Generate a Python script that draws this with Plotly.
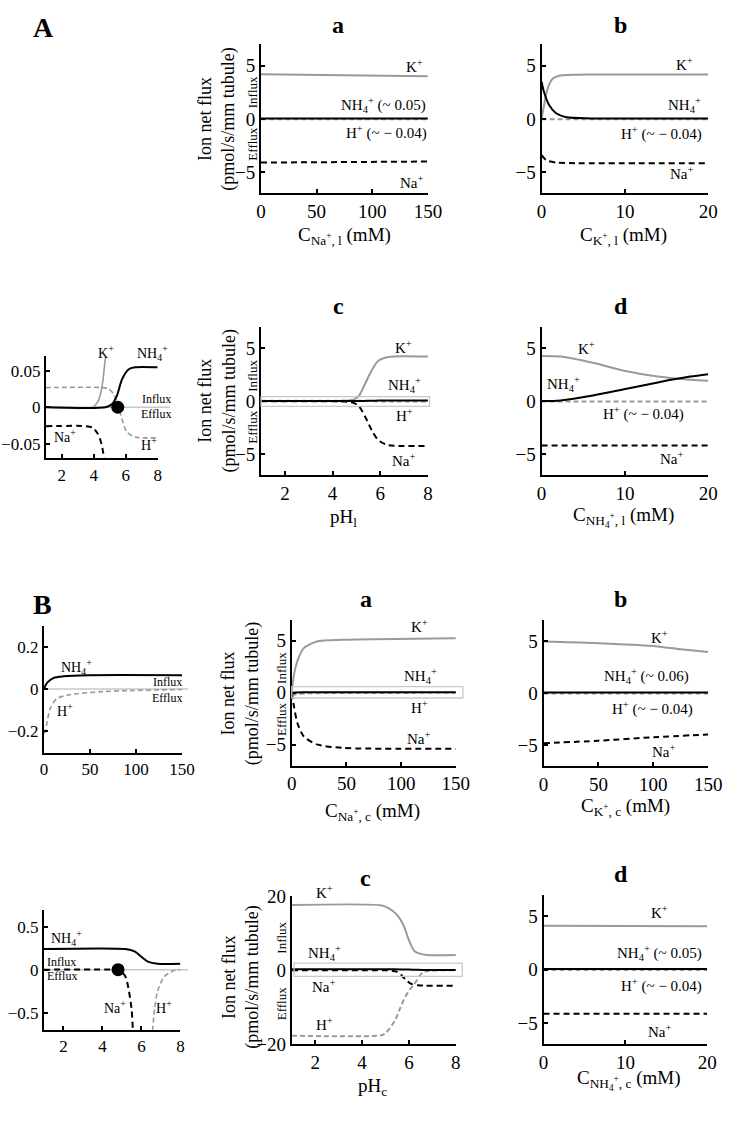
import plotly.graph_objects as go

W, H = 742, 1121
SERIF = "Liberation Serif"
BLACK = "#000000"
GREY = "#9a9a9a"
PALE = "#c8c8c8"

# ---- A a : flux vs luminal Na+ ----
naL = [0, 150]
naL_k = [4.2, 4.0]
naL_nh4 = [0.05, 0.05]
naL_h = [-0.04, -0.04]
naL_na = [-4.1, -4.0]

# ---- A b : flux vs luminal K+ ----
kL_k_x = [0, 0.3, 0.7, 1.3, 2.25, 4, 6, 20]
kL_k = [0, 1.3, 2.8, 3.75, 4.07, 4.15, 4.17, 4.17]
kL_nh4_x = [0, 0.3, 0.9, 1.7, 3, 6, 20]
kL_nh4 = [3.5, 2.5, 1.3, 0.55, 0.15, 0.05, 0.05]
kL_h_x = [0, 20]
kL_h = [-0.04, -0.04]
kL_na_x = [0, 0.6, 1.8, 4, 20]
kL_na = [-3.4, -3.9, -4.1, -4.15, -4.15]

# ---- A c (and its inset) : flux vs luminal pH ----
phL_k_x = [1, 3.93, 4.24, 4.44, 4.58, 4.69, 4.77, 4.9, 5.1, 5.38, 5.65, 5.92, 6.33, 8]
phL_k = [0, 0, 0.007, 0.02, 0.038, 0.061, 0.075, 0.15, 0.46, 1.7, 2.93, 3.8, 4.17, 4.2]
phL_nh4_x = [1, 4.74, 5.15, 5.45, 5.76, 6.17, 6.58, 8]
phL_nh4 = [0, 0, 0.0045, 0.016, 0.038, 0.052, 0.055, 0.055]
phL_h_x = [1, 4.55, 4.95, 5.25, 5.56, 5.76, 6.07, 6.58, 8]
phL_h = [0.027, 0.027, 0.025, 0.018, 0, -0.016, -0.034, -0.041, -0.042]
phL_na_x = [1, 3.53, 3.93, 4.24, 4.44, 4.58, 4.66, 4.85, 5.1, 5.38, 5.65, 5.92, 6.33, 8]
phL_na = [-0.026, -0.026, -0.028, -0.036, -0.047, -0.061, -0.075, -0.15, -0.46, -1.54, -2.78, -3.7, -4.17, -4.23]
phL_dot_x = [5.5]
phL_dot_y = [0]

# ---- A d : flux vs luminal NH4+ ----
nh4L_x = [0, 2.26, 6.15, 10.05, 13.95, 17.85, 20]
nh4L_k = [4.25, 4.2, 3.61, 2.84, 2.31, 2.0, 1.91]
nh4L_nh4 = [0, 0.06, 0.52, 1.14, 1.76, 2.31, 2.53]
nh4L_hx = [0, 20]
nh4L_h = [-0.04, -0.04]
nh4L_na = [-4.2, -4.2]

# ---- B a (and upper inset) : flux vs cellular Na+ ----
naC_x = [0, 2.1, 5.1, 11, 22.9, 46.7, 150]
naC_k = [0, 1.8, 3.05, 4.3, 4.94, 5.1, 5.25]
naC_na = [0, -1.35, -2.9, -4.2, -4.96, -5.3, -5.37]
naC_nh4_x = [0, 3.5, 10.6, 21, 49, 150]
naC_nh4 = [0, 0.03, 0.053, 0.06, 0.065, 0.065]
naC_h_x = [0, 1.7, 3.5, 6.9, 14, 28, 63.5, 150]
naC_h = [-0.21, -0.2, -0.152, -0.091, -0.045, -0.027, -0.012, -0.002]

# ---- B b : flux vs cellular K+ ----
kC_k_x = [0, 45, 104, 125, 150]
kC_k = [4.94, 4.8, 4.47, 4.2, 3.93]
kC_na_x = [0, 50, 100, 150]
kC_na = [-4.8, -4.55, -4.22, -3.95]
kC_flat_x = [0, 150]
kC_nh4 = [0.06, 0.06]
kC_h = [-0.04, -0.04]

# ---- B c (and lower inset) : flux vs cellular pH ----
phC_k_x = [1, 4.8, 5.14, 5.45, 5.69, 5.85, 5.96, 6.1, 6.24, 6.5, 6.79, 8]
phC_k = [17.6, 17.5, 16.7, 15.2, 13.1, 10.8, 8.7, 6.6, 5.1, 4.4, 4.1, 4.1]
phC_h_x = [1, 4.8, 5.0, 5.41, 5.62, 5.83, 6.03, 6.24, 6.42, 6.58, 6.67, 6.83, 7.17, 7.67, 8]
phC_h = [-17.7, -17.6, -17.0, -13.5, -10.3, -7.3, -5.3, -3.7, -1.8, -0.7, -0.47, -0.25, -0.08, -0.01, 0]
phC_na_x = [1, 4.6, 4.9, 5.17, 5.33, 5.5, 5.56, 5.7, 5.9, 6.1, 6.4, 8]
phC_na = [0, 0, -0.01, -0.076, -0.21, -0.47, -0.7, -1.5, -2.8, -3.7, -4.1, -4.2]
phC_nh4_x = [1, 5.17, 5.67, 6.0, 6.33, 6.83, 8]
phC_nh4 = [0.24, 0.24, 0.21, 0.15, 0.094, 0.068, 0.068]
phC_dot_x = [4.8]
phC_dot_y = [0]

# ---- B d : flux vs cellular NH4+ ----
nh4C_x = [0, 20]
nh4C_k = [4.1, 4.05]
nh4C_nh4 = [0.05, 0.05]
nh4C_h = [-0.04, -0.04]
nh4C_na = [-4.15, -4.15]

MAIN_Y = [-5, 0, 5]

fig = go.Figure()
layout = {}
annotations = []
shapes = []
yranges = {}


def r(n, k):
    return k if n == 1 else f"{k}{n}"


def axes(n, box, xr, yr, xt, yt, fs=19):
    left, right, top, bottom = box
    common = dict(showline=True, linecolor=BLACK, linewidth=2, ticks="inside", ticklen=4,
                  tickwidth=1.5, tickcolor=BLACK, showgrid=False, zeroline=False,
                  tickfont=dict(family=SERIF, size=fs, color=BLACK), fixedrange=True)
    xname = "xaxis" if n == 1 else f"xaxis{n}"
    yname = "yaxis" if n == 1 else f"yaxis{n}"
    layout[xname] = dict(domain=[left / W, right / W], range=xr, tickvals=xt, anchor=r(n, "y"), **common)
    layout[yname] = dict(domain=[1 - bottom / H, 1 - top / H], range=yr, tickvals=yt, anchor=r(n, "x"), **common)
    yranges[n] = yr


def curve(n, x, y, color, dash=None, width=2):
    fig.add_trace(go.Scatter(x=x, y=y, mode="lines", xaxis=r(n, "x"), yaxis=r(n, "y"),
                             line=dict(color=color, width=width, dash=dash, shape="spline", smoothing=0.7),
                             hoverinfo="skip"))


def dot(n, x, y):
    fig.add_trace(go.Scatter(x=x, y=y, mode="markers", xaxis=r(n, "x"), yaxis=r(n, "y"),
                             marker=dict(color=BLACK, size=13), cliponaxis=False, hoverinfo="skip"))


def label(n, x, y, text, size=15):
    # labels above the axis range are placed on the domain scale so they are not hidden
    lo, hi = yranges[n]
    if lo <= y <= hi:
        yref, yy = r(n, "y"), y
    else:
        yref, yy = f"{r(n, 'y')} domain", (y - lo) / (hi - lo)
    annotations.append(dict(xref=r(n, "x"), yref=yref, x=x, y=yy, text=text, showarrow=False,
                            xanchor="center", yanchor="middle",
                            font=dict(family=SERIF, size=size, color=BLACK)))


def paper_text(px, py, text, size=18, bold=False, angle=0):
    if bold:
        text = f"<b>{text}</b>"
    annotations.append(dict(xref="paper", yref="paper", x=px / W, y=1 - py / H, text=text,
                            showarrow=False, textangle=angle, xanchor="center", yanchor="middle",
                            font=dict(family=SERIF, size=size, color=BLACK)))


def flux_side(n, xfrac, y_in, y_out):
    for yv, t in ((y_in, "Influx"), (y_out, "Efflux")):
        annotations.append(dict(xref=f"{r(n, 'x')} domain", yref=r(n, "y"), x=xfrac, y=yv, text=t,
                                showarrow=False, textangle=-90, xanchor="center", yanchor="middle",
                                font=dict(family=SERIF, size=13, color=BLACK)))


def zero_band(n, x0, x1, y0, y1):
    shapes.append(dict(type="rect", xref=f"{r(n, 'x')} domain", yref=r(n, "y"), x0=x0, x1=x1,
                       y0=y0, y1=y1, line=dict(color=PALE, width=1.3), layer="above"))


def zero_line(n, x0, x1):
    shapes.append(dict(type="line", xref=f"{r(n, 'x')} domain", yref=r(n, "y"), x0=x0, x1=x1,
                       y0=0, y1=0, line=dict(color=PALE, width=1.6), layer="below"))


DASH_K = "6px,4px"
DASH_G = "5px,3px"
KP = "K<sup>+</sup>"
NAP = "Na<sup>+</sup>"
HP = "H<sup>+</sup>"
NH4P = "NH<sub>4</sub><sup>+</sup>"
YT = "Ion net flux<br>(pmol/s/mm tubule)"

# ---------------- A a ----------------
axes(1, (262.7, 434, 35, 187), [0, 150], [-7, 7], [0, 50, 100, 150], MAIN_Y)
curve(1, naL, naL_h, GREY, DASH_G)
curve(1, naL, naL_na, BLACK, DASH_K)
curve(1, naL, naL_k, GREY)
curve(1, naL, naL_nh4, BLACK)
label(1, 137.7, 4.95, KP)
label(1, 110, 1.32, NH4P + " (~ 0.05)")
label(1, 113, -1.29, HP + " (~ − 0.04)")
label(1, 136, -5.9, NAP)
flux_side(1, -0.051, 2.55, -2.37)

# ---------------- A b ----------------
axes(2, (550.7, 721.7, 35, 187), [0, 20], [-7, 7], [0, 10, 20], MAIN_Y)
curve(2, kL_h_x, kL_h, GREY, DASH_G)
curve(2, kL_na_x, kL_na, BLACK, DASH_K)
curve(2, kL_k_x, kL_k, GREY)
curve(2, kL_nh4_x, kL_nh4, BLACK)
label(2, 17.1, 5.15, KP)
label(2, 17.1, 1.32, NH4P)
label(2, 14.4, -1.38, HP + " (~ − 0.04)")
label(2, 16.9, -5.04, NAP)

# ---------------- A inset ----------------
axes(3, (41.9, 156.7, 353, 456.7), [1, 8], [-0.07, 0.07], [2, 4, 6, 8], [-0.05, 0, 0.05], fs=17)
zero_line(3, 0, 1.11)
curve(3, phL_h_x, phL_h, GREY, DASH_G, 1.6)
curve(3, phL_na_x, phL_na, BLACK, DASH_K)
curve(3, phL_k_x, phL_k, GREY, None, 1.6)
curve(3, phL_nh4_x, phL_nh4, BLACK)
dot(3, phL_dot_x, phL_dot_y)
label(3, 4.79, 0.076, KP, 14)
label(3, 7.7, 0.074, NH4P, 14)
label(3, 7.9, 0.011, "Influx", 12)
label(3, 7.9, -0.0095, "Efflux", 12)
label(3, 2.23, -0.04, NAP, 14)
label(3, 7.47, -0.051, HP, 14)

# ---------------- A c ----------------
axes(4, (262.8, 434, 323, 474), [1, 8], [-7, 7], [2, 4, 6, 8], MAIN_Y)
zero_band(4, 0, 1.01, -0.5, 0.42)
curve(4, phL_h_x, phL_h, GREY, DASH_G)
curve(4, phL_na_x, phL_na, BLACK, DASH_K)
curve(4, phL_k_x, phL_k, GREY)
curve(4, phL_nh4_x, phL_nh4, BLACK)
label(4, 6.97, 5.12, KP)
label(4, 7.0, 1.5, NH4P)
label(4, 7.0, -1.36, HP)
label(4, 7.0, -5.53, NAP)
flux_side(4, -0.051, 2.34, -2.47)

# ---------------- A d ----------------
axes(5, (550.7, 721.7, 323, 474), [0, 20], [-7, 7], [0, 10, 20], MAIN_Y)
curve(5, nh4L_hx, nh4L_h, GREY, DASH_G)
curve(5, nh4L_hx, nh4L_na, BLACK, DASH_K)
curve(5, nh4L_x, nh4L_k, GREY)
curve(5, nh4L_x, nh4L_nh4, BLACK)
label(5, 5.38, 5.0, KP)
label(5, 2.6, 1.6, NH4P)
label(5, 12.2, -1.18, HP + " (~ − 0.04)")
label(5, 15.7, -5.43, NAP)

# ---------------- B upper inset ----------------
axes(6, (40, 181.7, 627.3, 756.7), [0, 150], [-0.3, 0.3], [0, 50, 100, 150], [-0.2, 0, 0.2], fs=17)
zero_line(6, 0, 1.045)
curve(6, naC_h_x, naC_h, GREY, DASH_G, 1.6)
curve(6, naC_nh4_x, naC_nh4, BLACK)
label(6, 35, 0.106, NH4P, 14)
label(6, 23.3, -0.098, HP, 14)
label(6, 134, 0.033, "Influx", 12)
label(6, 134, -0.043, "Efflux", 12)

# ---------------- B a ----------------
axes(7, (294.3, 462.7, 621.7, 770), [0, 150], [-7, 7], [0, 50, 100, 150], MAIN_Y)
zero_band(7, 0, 1.043, -0.5, 0.6)
curve(7, naC_h_x, naC_h, GREY, DASH_G)
curve(7, naC_x, naC_na, BLACK, DASH_K)
curve(7, naC_x, naC_k, GREY)
curve(7, naC_nh4_x, naC_nh4, BLACK)
label(7, 116.4, 6.45, KP)
label(7, 118, 1.64, NH4P)
label(7, 116.4, -1.35, HP)
label(7, 116.4, -4.34, NAP)
flux_side(7, -0.059, 2.4, -2.6)

# ---------------- B b ----------------
axes(8, (552.7, 721.7, 621.7, 770.7), [0, 150], [-7, 7], [0, 50, 100, 150], MAIN_Y)
curve(8, kC_flat_x, kC_h, GREY, DASH_G)
curve(8, kC_na_x, kC_na, BLACK, DASH_K)
curve(8, kC_k_x, kC_k, GREY)
curve(8, kC_flat_x, kC_nh4, BLACK)
label(8, 105.6, 5.42, KP)
label(8, 93.7, 1.64, NH4P + " (~ 0.06)")
label(8, 99.7, -1.5, HP + " (~ − 0.04)")
label(8, 110, -5.5, NAP)

# ---------------- B lower inset ----------------
axes(9, (40, 180, 916.7, 1039.3), [1, 8], [-0.7, 0.7], [2, 4, 6, 8], [-0.5, 0, 0.5], fs=17)
zero_line(9, 0, 1.057)
curve(9, phC_h_x, phC_h, GREY, DASH_G, 1.6)
curve(9, phC_na_x, phC_na, BLACK, DASH_K)
curve(9, phC_nh4_x, phC_nh4, BLACK)
dot(9, phC_dot_x, phC_dot_y)
label(9, 2.17, 0.367, NH4P, 14)
label(9, 1.92, 0.094, "Influx", 12)
label(9, 1.92, -0.068, "Efflux", 12)
label(9, 4.67, -0.436, NAP, 14)
label(9, 7.17, -0.436, HP, 14)

# ---------------- B c ----------------
axes(10, (294.3, 462.7, 903, 1054), [1, 8], [-20, 20], [2, 4, 6, 8], [-20, 0, 20])
zero_band(10, 0.014, 1.039, -1.7, 1.9)
curve(10, phC_h_x, phC_h, GREY, DASH_G)
curve(10, phC_na_x, phC_na, BLACK, DASH_K)
curve(10, phC_k_x, phC_k, GREY)
curve(10, phC_nh4_x, phC_nh4, BLACK)
label(10, 2.39, 21.1, KP)
label(10, 2.39, 4.7, NH4P)
label(10, 2.39, -4.2, NAP)
label(10, 2.39, -14.6, HP)
flux_side(10, -0.061, 8.7, -9.0)

# ---------------- B d ----------------
axes(11, (552.7, 720.7, 901.7, 1054), [0, 20], [-7, 7], [0, 10, 20], MAIN_Y)
curve(11, nh4C_x, nh4C_h, GREY, DASH_G)
curve(11, nh4C_x, nh4C_na, BLACK, DASH_K)
curve(11, nh4C_x, nh4C_k, GREY)
curve(11, nh4C_x, nh4C_nh4, BLACK)
label(11, 14.2, 5.36, KP)
label(11, 14.2, 1.53, NH4P + " (~ 0.05)")
label(11, 14.4, -1.52, HP + " (~ − 0.04)")
label(11, 14.2, -5.74, NAP)

# ---------------- titles ----------------
paper_text(40, 18, "A", 28, bold=True)
paper_text(38, 606, "B", 28, bold=True)
for px, py, t in [(342, 15, "a"), (632, 15, "b"), (342, 302, "c"), (632, 302, "d"),
                  (370, 600, "a"), (632, 600, "b"), (370, 885, "c"), (632, 881, "d")]:
    paper_text(px, py, t, 24, bold=True)

paper_text(348, 230, "C<sub>Na<sup>+</sup>, l</sub> (mM)", 19)
paper_text(635, 230, "C<sub>K<sup>+</sup>, l</sub> (mM)", 19)
paper_text(347, 518, "pH<sub>l</sub>", 19)
paper_text(635, 517, "C<sub>NH<sub>4</sub><sup>+</sup>, l</sub> (mM)", 19)
paper_text(377, 817, "C<sub>Na<sup>+</sup>, c</sub> (mM)", 19)
paper_text(637, 812, "C<sub>K<sup>+</sup>, c</sub> (mM)", 19)
paper_text(377, 1098, "pH<sub>c</sub>", 19)
paper_text(640, 1090, "C<sub>NH<sub>4</sub><sup>+</sup>, c</sub> (mM)", 19)

paper_text(217.5, 111, YT, 18, angle=-90)
paper_text(217.5, 398, YT, 18, angle=-90)
paper_text(241.5, 696, YT, 18, angle=-90)
paper_text(241.5, 985, YT, 18, angle=-90)

fig.update_layout(
    width=W, height=H,
    margin=dict(l=0, r=0, t=0, b=0),
    paper_bgcolor="white", plot_bgcolor="white",
    showlegend=False, hovermode=False,
    annotations=annotations, shapes=shapes,
    **layout,
)

# drop the default page margin so the figure sits at the window origin
fig.write_html("out.html", config={"displayModeBar": False},
               post_script="document.body.style.margin='0';")
